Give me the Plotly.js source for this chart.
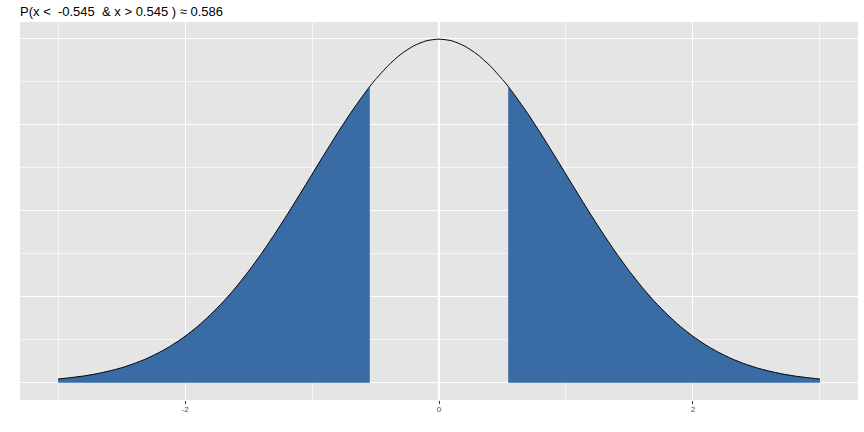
<!DOCTYPE html>
<html>
<head>
<meta charset="utf-8">
<script src="https://cdn.plot.ly/plotly-3.0.1.min.js"></script>
<style>html,body{margin:0;padding:0;background:#fff;}#chart{width:864px;height:432px;}</style>
</head>
<body>
<div id="chart"></div>
<script>
// Density curve values
const curveX = [-3.0,-2.9,-2.8,-2.7,-2.6,-2.5,-2.4,-2.3,-2.2,-2.1,-2.0,-1.9,-1.8,-1.7,-1.6,-1.5,-1.4,-1.3,-1.2,-1.1,-1.0,-0.9,-0.8,-0.7,-0.6,-0.545,-0.5,-0.4,-0.3,-0.2,-0.1,0.0,0.1,0.2,0.3,0.4,0.5,0.545,0.6,0.7,0.8,0.9,1.0,1.1,1.2,1.3,1.4,1.5,1.6,1.7,1.8,1.9,2.0,2.1,2.2,2.3,2.4,2.5,2.6,2.7,2.8,2.9,3.0];
const curveY = [0.0044,0.0060,0.0079,0.0104,0.0136,0.0175,0.0224,0.0283,0.0355,0.0440,0.0540,0.0656,0.0790,0.0940,0.1109,0.1295,0.1497,0.1714,0.1942,0.2179,0.2420,0.2661,0.2897,0.3123,0.3332,0.3440,0.3521,0.3683,0.3814,0.3910,0.3970,0.3989,0.3970,0.3910,0.3814,0.3683,0.3521,0.3440,0.3332,0.3123,0.2897,0.2661,0.2420,0.2179,0.1942,0.1714,0.1497,0.1295,0.1109,0.0940,0.0790,0.0656,0.0540,0.0440,0.0355,0.0283,0.0224,0.0175,0.0136,0.0104,0.0079,0.0060,0.0044];
const cutLow = -0.545;
const cutHigh = 0.545;
const titleText = "P(x <  -0.545  & x > 0.545 ) \u2248 0.586";
const xTicks = [-2, 0, 2];
const xTickLabels = ["-2", "0", "2"];

const leftX = [], leftY = [], rightX = [], rightY = [];
curveX.forEach((x, i) => {
  if (x <= cutLow) { leftX.push(x); leftY.push(curveY[i]); }
  if (x >= cutHigh) { rightX.push(x); rightY.push(curveY[i]); }
});

const fillColor = '#396BA5';
const traces = [
  {x: leftX, y: leftY, type: 'scatter', mode: 'lines', fill: 'tozeroy', fillcolor: fillColor,
   line: {width: 0, shape: 'spline', smoothing: 0.6}, hoverinfo: 'skip', showlegend: false},
  {x: rightX, y: rightY, type: 'scatter', mode: 'lines', fill: 'tozeroy', fillcolor: fillColor,
   line: {width: 0, shape: 'spline', smoothing: 0.6}, hoverinfo: 'skip', showlegend: false},
  {x: curveX, y: curveY, type: 'scatter', mode: 'lines',
   line: {color: '#000000', width: 1, shape: 'spline', smoothing: 0.6}, showlegend: false}
];

const layout = {
  width: 864, height: 432,
  margin: {l: 20, r: 6, t: 22, b: 32},
  paper_bgcolor: '#FFFFFF',
  plot_bgcolor: '#E5E5E5',
  font: {family: 'Liberation Sans, Arial, sans-serif', color: '#000000'},
  title: {text: titleText, x: 0, xref: 'paper', xanchor: 'left', y: 1 - 11/432, yref: 'container', yanchor: 'middle',
          font: {size: 13, color: '#000000', family: 'Liberation Sans, Arial, sans-serif'}},
  xaxis: {
    range: [-3.3, 3.3], tickvals: xTicks, ticktext: xTickLabels,
    ticks: 'outside', ticklen: 3, tickwidth: 1, tickcolor: '#333333',
    tickfont: {size: 8, color: '#4D4D4D'}, ticklabelstandoff: -2,
    showgrid: true, gridcolor: '#FFFFFF', gridwidth: 1.1,
    minor: {tickvals: [-3, -1, 1, 3], showgrid: true, gridcolor: '#FFFFFF', gridwidth: 0.6, ticks: ''},
    zeroline: false, showline: false, fixedrange: true
  },
  yaxis: {
    range: [-0.01995, 0.4188], tickvals: [0, 0.1, 0.2, 0.3, 0.4],
    showticklabels: false, ticks: '',
    showgrid: true, gridcolor: '#FFFFFF', gridwidth: 1.1,
    minor: {tickvals: [0.05, 0.15, 0.25, 0.35], showgrid: true, gridcolor: '#FFFFFF', gridwidth: 0.6, ticks: ''},
    zeroline: false, showline: false, fixedrange: true
  }
};

Plotly.newPlot('chart', traces, layout, {staticPlot: true, displayModeBar: false});
</script>
</body>
</html>
